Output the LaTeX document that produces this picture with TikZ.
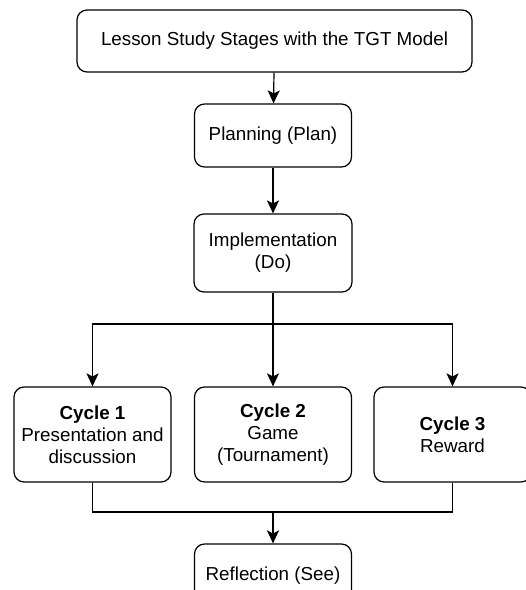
\documentclass[tikz,border=0pt]{standalone}
\usepackage{fontspec}
\setmainfont{Liberation Sans}
\usetikzlibrary{arrows.meta}

\begin{document}
\begin{tikzpicture}[x=1pt, y=-1pt,
    stage/.style={draw, rounded corners=10pt, line width=1.2pt,
      align=center, inner sep=0, font=\fontsize{18.8}{22}\selectfont},
    flow/.style={line width=1.2pt,
      -{Stealth[length=13pt, width=12pt, inset=3pt]}},
    link/.style={line width=1.2pt}]
  \clip (0,0) rectangle (526,590);
  \node[stage, minimum width=395pt, minimum height=62pt] (title) at (274.5,41)
    {Lesson Study Stages with the TGT Model};
  \node[stage, minimum width=157pt, minimum height=63pt] (plan) at (273,135.5)
    {Planning (Plan)};
  \node[stage, minimum width=158pt, minimum height=78pt] (impl) at (273,253)
    {Implementation\\(Do)};
  \node[stage, minimum width=157pt, minimum height=95pt] (cycA) at (92.5,434.5)
    {\textbf{Cycle 1}\\Presentation and\\discussion};
  \node[stage, minimum width=157pt, minimum height=95pt] (cycB) at (273,434.5)
    {\textbf{Cycle 2}\\Game\\(Tournament)};
  \node[stage, minimum width=157pt, minimum height=95pt] (cycC) at (452.5,434.5)
    {\textbf{Cycle 3}\\Reward};
  \node[stage, minimum width=157pt, minimum height=63pt] (refl) at (273,575.5)
    {Reflection (See)};
  % branch and join points
  \coordinate (split) at (273,324);
  \coordinate (join) at (273,512);
  \draw[flow] (title) -- (plan);
  \draw[flow] (plan) -- (impl);
  \draw[flow] (impl) -- (cycB);
  \draw[flow] (split) -| (cycA);
  \draw[flow] (split) -| (cycC);
  \draw[link] (cycA.south) |- (join) -| (cycC.south);
  \draw[flow] (join) -- (refl);
\end{tikzpicture}
\end{document}
